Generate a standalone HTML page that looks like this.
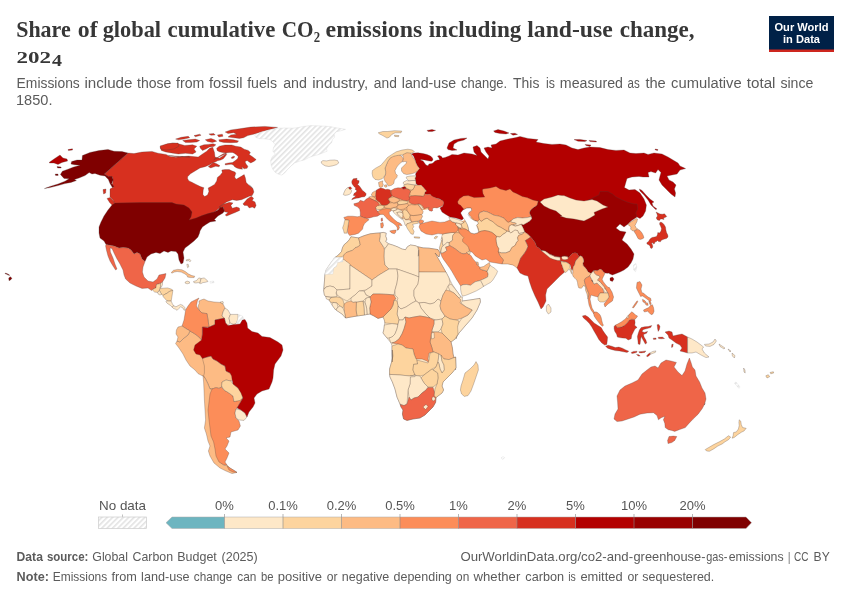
<!DOCTYPE html>
<html><head><meta charset="utf-8">
<style>
html,body{margin:0;padding:0;background:#fff;}
body{width:850px;height:600px;overflow:hidden;position:relative;font-family:"Liberation Sans",sans-serif;}
svg{position:absolute;left:0;top:0;will-change:transform;}
text{font-family:"Liberation Sans",sans-serif;}
.t{font-family:"Liberation Serif",serif;font-weight:bold;fill:#373737;}
.s{fill:#5b5b5b;}
.f{fill:#5b5b5b;}
.l{fill:#555;}
</style></head><body>
<svg width="850" height="600" viewBox="0 0 850 600">
<defs>
<pattern id="h" patternUnits="userSpaceOnUse" width="3.8" height="3.8" patternTransform="rotate(-45)"><rect width="3.8" height="3.8" fill="#fff"/><rect width="3.8" height="1.6" fill="#e3e3e3"/></pattern>
</defs>
<!-- HEADER -->
<text class="t" x="16.2" y="36.8" font-size="23.5" textLength="54.5" lengthAdjust="spacingAndGlyphs">Share</text><text class="t" x="77.8" y="36.8" font-size="23.5" textLength="19.8" lengthAdjust="spacingAndGlyphs">of</text><text class="t" x="102.7" y="36.8" font-size="23.5" textLength="58.4" lengthAdjust="spacingAndGlyphs">global</text><text class="t" x="167.6" y="36.8" font-size="23.5" textLength="107.7" lengthAdjust="spacingAndGlyphs">cumulative</text><text class="t" x="281.8" y="36.8" font-size="23.5" textLength="38.2" lengthAdjust="spacingAndGlyphs">CO₂</text><text class="t" x="325.6" y="36.8" font-size="23.5" textLength="96.6" lengthAdjust="spacingAndGlyphs">emissions</text><text class="t" x="428.7" y="36.8" font-size="23.5" textLength="92.7" lengthAdjust="spacingAndGlyphs">including</text><text class="t" x="527.3" y="36.8" font-size="23.5" textLength="85.4" lengthAdjust="spacingAndGlyphs">land-use</text><text class="t" x="619.7" y="36.8" font-size="23.5" textLength="74.9" lengthAdjust="spacingAndGlyphs">change,</text>
<text class="t" x="16.5" y="63" font-size="17.5" textLength="34.5" lengthAdjust="spacingAndGlyphs">202</text><text class="t" x="52" y="65.7" font-size="17.5" textLength="10" lengthAdjust="spacingAndGlyphs">4</text>
<text class="s" x="16.6" y="87.6" font-size="14" textLength="63.2" lengthAdjust="spacingAndGlyphs">Emissions</text><text class="s" x="84.4" y="87.6" font-size="14" textLength="48.1" lengthAdjust="spacingAndGlyphs">include</text><text class="s" x="137.1" y="87.6" font-size="14" textLength="34.3" lengthAdjust="spacingAndGlyphs">those</text><text class="s" x="176.0" y="87.6" font-size="14" textLength="28.3" lengthAdjust="spacingAndGlyphs">from</text><text class="s" x="208.9" y="87.6" font-size="14" textLength="33.6" lengthAdjust="spacingAndGlyphs">fossil</text><text class="s" x="247.2" y="87.6" font-size="14" textLength="29.8" lengthAdjust="spacingAndGlyphs">fuels</text><text class="s" x="283.2" y="87.6" font-size="14" textLength="23.7" lengthAdjust="spacingAndGlyphs">and</text><text class="s" x="312.2" y="87.6" font-size="14" textLength="56.0" lengthAdjust="spacingAndGlyphs">industry,</text><text class="s" x="373.8" y="87.6" font-size="14" textLength="23.0" lengthAdjust="spacingAndGlyphs">and</text><text class="s" x="401.8" y="87.6" font-size="14" textLength="54.3" lengthAdjust="spacingAndGlyphs">land-use</text><text class="s" x="461.0" y="87.6" font-size="14" textLength="46.2" lengthAdjust="spacingAndGlyphs">change.</text><text class="s" x="513.1" y="87.6" font-size="14" textLength="26.3" lengthAdjust="spacingAndGlyphs">This</text><text class="s" x="545.9" y="87.6" font-size="14" textLength="8.9" lengthAdjust="spacingAndGlyphs">is</text><text class="s" x="559.8" y="87.6" font-size="14" textLength="63.2" lengthAdjust="spacingAndGlyphs">measured</text><text class="s" x="627.6" y="87.6" font-size="14" textLength="12.2" lengthAdjust="spacingAndGlyphs">as</text><text class="s" x="645.4" y="87.6" font-size="14" textLength="20.4" lengthAdjust="spacingAndGlyphs">the</text><text class="s" x="671.1" y="87.6" font-size="14" textLength="70.5" lengthAdjust="spacingAndGlyphs">cumulative</text><text class="s" x="746.8" y="87.6" font-size="14" textLength="28.7" lengthAdjust="spacingAndGlyphs">total</text><text class="s" x="780.4" y="87.6" font-size="14" textLength="33.0" lengthAdjust="spacingAndGlyphs">since</text>
<text class="s" x="16" y="105.3" font-size="14" textLength="36.5" lengthAdjust="spacingAndGlyphs">1850.</text>
<!-- LOGO -->
<g>
<rect x="769" y="16" width="65" height="36" fill="#002147"/>
<rect x="769" y="49.5" width="65" height="2.5" fill="#ce261e"/>
<text x="801.5" y="30.5" font-size="11.5" font-weight="bold" fill="#fff" text-anchor="middle" textLength="54" lengthAdjust="spacingAndGlyphs">Our World</text>
<text x="801.5" y="43" font-size="11.5" font-weight="bold" fill="#fff" text-anchor="middle" textLength="37" lengthAdjust="spacingAndGlyphs">in Data</text>
</g>
<!-- MAP -->
<g id="map" stroke="#4a3d38" stroke-opacity="0.7" stroke-width="0.4" stroke-linejoin="round">
<path d="M128 153L134 153.6L142 152L152 151.4L158 153.2L166 154.4L170 156.4L176 157.2L182 156.4L190 157.2L168.5 155.4L178.4 157.1L188.3 156.1L198.2 157.1L202.5 154L206.7 151.2L209.6 148.3L212.7 147.2L214.5 152.6L215 157.1L219.5 158.2L223.7 155.4L226.6 153.3L213.8 159.6L216.7 157.9L220 155.8L223.3 153.8L225.8 153.3L226.7 154.6L225 156.7L223.3 158.8L220.8 160L217.5 160.8L215.8 161.8L212.5 162.9L209.2 165L205 166.7L200 167.9L190.5 173.8L187.6 176.7L187.6 178.8L189 180.9L191.9 182.3L196.1 184.4L200.4 186.6L203.9 187.7L203.2 190.1L202.9 194.4L204.6 196.5L207.5 195.1L208.9 191.5L208.2 188L211 186.6L214.5 184.4L216.7 180.9L217.4 177.4L220.2 175.2L222.3 172.4L221.8 170L225 169.6L229.2 169.6L231.7 170.8L235 172.1L235.8 173.3L234.6 177.1L236.2 179.2L240 177.1L244.2 174.6L245.4 177.9L246.2 182.5L249.2 185.4L252.1 187.9L249.3 184.9L252.9 188.4L253.9 192L252.2 195.5L249.3 196.2L246.5 197.6L241.5 199.7L236.6 200.5L232.3 199.7L226.7 201.9L222.4 204.7L218.9 207.1L223.8 204L229.5 202.3L233 202.9L230.9 205.4L232.3 208.2L236.6 207.1L239.4 208L239.7 210.4L235.2 212.5L230.9 214.2L226.7 216L225.2 215L228.1 212.5L224.5 211.8L223.1 207.1L218.9 208.5L213.9 212.5L208.2 214.2L202.6 216.7L195.5 219.3L188.4 222.1L184.2 212.5L175.7 207.5L170 204.7L172 204.4L140 204.4L115 204.4L113 200L110 197L110 189L113.6 187L112 185L113 181L112.4 177L109 177L104.4 174Z" fill="#d7301f"/>
<path d="M216.7 148.3L219.2 146.2L225 145L231.7 145L235.8 146.2L240.8 147.1L244.2 149.2L248.3 150.4L250.4 152.5L249.2 154.6L252.5 156.7L256.2 159.6L254.2 161.2L250.8 162.9L249.2 162.1L247.1 160.4L245 161.7L246.2 164.2L247.9 166.2L247.1 168.3L244.2 168.8L241.7 167.1L242.5 169.2L239.2 168.8L236.7 167.9L234.6 166.7L233.3 165L231.2 164.2L228.3 164.6L225.4 165L225 163.8L228.3 162.9L232.5 162.5L235 160.8L237.5 158.8L238.3 156.7L236.7 155L234.2 153.3L232.5 152.5L229.2 152.5L225.8 152.9L222.5 152.5L219.2 151.7L217.1 150.4Z" fill="#d7301f"/>
<path d="M231.2 157.5L233.3 156.2L235 156.7L233.3 158.2L231.7 158.5Z" fill="#d7301f"/>
<path d="M208.3 166.7L210.8 164.6L213.3 162.5L216.7 163.8L220 165.8L218.8 166.7L215.8 166.2L213.3 167.1L210.8 167.9Z" fill="#d7301f"/>
<path d="M242.9 204L247.2 199L251.4 196.2L253.6 198.3L252.2 200.5L255 201.9L256.1 205.4L254.7 208.2L252.2 207.1L249.3 208L247.2 205.4L244.4 205.4Z" fill="#d7301f"/>
<path d="M107 198.4L110 197.6L113.6 201L115.6 205.6L113 206L109.6 202.4Z" fill="#d7301f"/>
<path d="M103 189.6L106 189L105.6 193L103.6 194Z" fill="#d7301f"/>
<path d="M225.2 132L230.8 129.9L239.3 128.8L250.7 127.1L264.8 126.4L277.6 127.4L267.6 129.9L259.2 132.7L253.5 134.2L247.8 135.6L243.6 137.7L239.3 138.4L233.7 137.7L228 137L230.8 134.9L236.5 134.2L233.7 132.7L228 133.5Z" fill="#d7301f"/>
<path d="M218.8 139.8L226.6 139.1L233.7 139.8L238.6 141L237.2 142.4L230.8 142.7L223.7 142.4L219.5 141.5Z" fill="#d7301f"/>
<path d="M208.9 133.9L213.8 133.5L215.2 134.9L211 135.3Z" fill="#d7301f"/>
<path d="M217.4 134.9L222.3 134.2L223 136.3L218.8 137Z" fill="#d7301f"/>
<path d="M175.6 139.1L181.2 137.3L188.3 136.3L189.7 137.7L184.1 139.1L178.4 139.8Z" fill="#d7301f"/>
<path d="M205.3 139.8L211 138.4L214.5 139.8L216.7 141.2L212.4 142.4L207.5 141.5Z" fill="#d7301f"/>
<path d="M194 135.6L199.7 134.2L201.1 135.3L195.4 136.7Z" fill="#d7301f"/>
<path d="M182.7 140.5L188.3 139.8L195.4 139.1L199.7 140.5L196.8 142L190.5 142.4L185.5 142.4Z" fill="#d7301f"/>
<path d="M160 147.6L165.7 144.8L172.7 142.9L178.4 143.8L184.8 145.5L192.6 144.8L196.8 146.2L194 149L196.1 151.9L192.6 154L185.5 153.3L178.4 154L171.3 152.9L165.7 151.9L161.4 150.5Z" fill="#d7301f"/>
<path d="M199.7 146.2L203.9 144.8L208.2 144.4L213.1 143.8L215.9 144.8L213.8 146.6L209.6 146.9L206 149L202.5 150.5L200.4 148.3Z" fill="#d7301f"/>
<path d="M160 146L168 143.6L178 143L179 146L174 149L166 150L161 149Z" fill="#d7301f"/>
<path d="M115 203L140 202.6L172 202.6L176 204L184 205L189 208L192 212L191 217L189 220L196 218L202 215.6L208 213.6L214 212L218 210L220 207.6L223 207L224.4 211L223 213L218 216L214.4 219.6L216 221L210 222L206 224.4L202.4 227L200 231L199.6 233L198 237L194 241L189 245L185 248L183 252L184 258L183 263L181 264L179 260L178 254L176 251.6L171 251L168 252.4L164 251L160 253.6L156 252.4L151 254L147 257L145 261.6L142 259L140 254L137 252.4L134 254L131 250L128 248L123 247.6L119 248L114 246L106 244.4L104 241L100 238L99 233L99 227L101 222L104 216L108 210L112 205Z" fill="#7f0000"/>
<path d="M82.4 155.6L90 152.4L99 150.6L108 149.4L114 151.2L122 151.6L128 153L104.4 174L108.4 176.6L112 176.4L113.2 180L111.6 183.6L114 186.6L112.4 187.6L110 183.6L108.4 179.6L105 176L100 175.2L95 173.4L92 174L89.2 172.6L85 175.6L79 178L74.4 179.6L76.4 180.6L71 182.4L65 183.6L58 185.6L50 187.6L44.4 188.6L50 186.4L58 184L65 181.2L69 178.8L64 178.4L60.4 174.4L62.4 171.2L68 169.2L73 167.2L80 165.2L74.4 164.8L71 164L71.6 161.6L77 160L82 160Z" fill="#7f0000"/>
<path d="M57 166.6L61 167L61.2 168L57.6 168Z" fill="#7f0000"/>
<path d="M55.2 174L58 174L58.2 175.4L55.6 175.4Z" fill="#7f0000"/>
<path d="M49 162.6L54 159L60 155L63 158L67 159L67.6 161L62 162.4L58 164.4L54 163L50 163Z" fill="#b30000"/>
<path d="M68 149.6L72.4 148.8L72.6 150L68.4 150.6Z" fill="#b30000"/>
<path d="M106 244.4L114 246L119 248L123 247.6L128 248L131 250L134 254L137 252.4L140 254L142 259L145 261.6L143 267L142.4 272L144 277L148 281L153 282L157 279L159 275L166 273.6L165 278L162.4 282L161.2 283.2L159.4 283.8L156.6 284.4L156 288L153 289.2L151.6 290.6L148 288L142 288.4L136 286L130 283L125.6 279L124 275L123 270L120 264L117 259L114 253L112 248.4L110 248L110.4 252L113 258L115 264L117 269L115.6 270L113 266L110 261L108 256L106.4 250L105.6 246Z" fill="#ef6548"/>
<path d="M152.9 289.1L155.9 287.9L156.5 284.4L159.4 283.8L161.2 283.2L160.6 286.2L160 288.5L159.4 290.3L157.6 292.4L154.7 292.1L152.7 290.3Z" fill="#fdd49e"/>
<path d="M160.6 283.2L162.6 282.1L162.4 285L161.2 287.4L160.2 287.9L160.6 286.2Z" fill="#fee8c8"/>
<path d="M160 288.5L163.5 288.2L167.6 287.9L171.2 289.1L172.9 290.3L169.4 291.5L167.1 293.2L164.7 294.4L162.9 295.6L161.8 294.4L160.6 292.6L159.4 290.3Z" fill="#fdd49e"/>
<path d="M157.6 292.4L159.4 290.5L160.6 292.6L161.8 294.4L160 295L158.2 294.1Z" fill="#fee8c8"/>
<path d="M162.9 295.6L164.7 294.4L167.1 293.2L169.4 291.5L172.9 290.3L172.4 293.8L171.8 297.4L171.2 300.9L168.8 301.1L166.5 300.3L164.7 298.5L163.3 296.8Z" fill="#fdd49e"/>
<path d="M166.5 300.9L168.8 301.1L171.2 301.1L172.4 303.8L173.5 305.6L172.4 307.4L170.6 305.6L168.8 304.4L167.1 303.2L165.9 301.8Z" fill="#fee8c8"/>
<path d="M172.4 307.4L173.5 305.6L175.9 306.8L178.2 305.6L180.6 304.4L182.9 305.4L184.7 307.4L185.3 309.7L184.1 310.3L182.9 307.9L180.6 306.8L178.8 308.5L177.1 310.3L175.3 309.1L173.5 308.5Z" fill="#fee8c8"/>
<path d="M171.2 272.6L173.5 270.3L177.6 269.4L181.8 269.7L185.3 271.5L188.2 273.8L191.8 275.6L194.7 276.2L194.1 277.6L190.6 277.6L187.6 277.1L187.1 275.6L184.7 273.8L181.2 272.1L177.1 271.5L174.1 272.1L172 273.2Z" fill="#fdbb84"/>
<path d="M185.1 282.1L187.1 281.1L189.4 281.8L189.6 283.2L187.1 283.8L185.3 283.2Z" fill="#fee8c8"/>
<path d="M193.5 281.5L196.5 280.6L198.8 277.9L201.2 278.5L200.6 280.3L200 283.2L198.2 282.6L195.9 283L193.9 282.6Z" fill="#fee8c8"/>
<path d="M201.2 278.5L204.1 277.9L206.5 279.7L208 281.5L205.3 282.3L202.9 282.6L200.6 283.8L200 283.2L200.6 280.3Z" fill="#fee8c8"/>
<path d="M210 281.5L213.5 281.1L214.1 282.6L210.4 283.2Z" fill="url(#h)" stroke="#d4d4d4" stroke-width="0.5"/>
<path d="M186.1 259.9L189.4 259.1L190.8 260.6L190 261.8L188.8 260.6L186.5 260.9Z" fill="#fee8c8"/>
<path d="M186.8 264.4L188.2 264.2L188.8 266.8L187.6 267.7Z" fill="#fee8c8"/>
<path d="M220 302.1L222.9 301.5L223.5 303.2L221.2 304.2Z" fill="#fee8c8"/>
<path d="M254.7 135.3L257.1 133.5L261.8 131.8L267.6 130.4L273.5 129.2L277.6 128.2L285.3 128L292.4 128.2L298.2 127.6L302.9 126.5L311.2 125.6L320.6 125.9L330 126.5L334.7 127.6L340.6 128.5L345.5 129.4L340.6 130.8L336.5 131.8L334.1 134.1L334.7 137.1L332.4 139.4L331.8 142.4L328.8 145.3L326.5 148.8L327.1 151.2L322.9 152.9L318.2 154.7L313.5 155.9L308.8 157.6L304.1 160L299.4 161.2L294.7 162.9L291.2 165.9L287.6 169.4L284.7 172.9L281.8 175.1L278.2 174.1L275.3 172.4L272.9 169.4L271.2 165.3L270.6 160.6L272.4 156.5L275.3 154.1L272.9 151.2L273.5 147.6L275.3 144.7L272.9 141.8L270 139.4L264.1 138.8L259.4 138.6L255.9 137.4Z" fill="url(#h)" stroke="#d4d4d4" stroke-width="0.5"/>
<path d="M321.2 161.8L322.9 160.6L326.5 160.9L330 160.2L334.7 160L337.6 160.6L338.8 162.9L336.5 164.7L332.4 165.9L328.8 166.5L325.3 165.9L322.9 164.5L321.5 163.3Z" fill="#fee8c8"/>
<path d="M177 341L180 342L184 338L188 335L190 331L195 334L199 337L201.6 340L204 342L202.4 358.4L205 359L207 366L206 373L205 378L203.6 376.4L198 373.6L195 370L190 366L186 360L183 354L179 348L175.6 343.6Z" fill="#fdbb84"/>
<path d="M202.4 358.4L207 357L211 356L213 359L217 361L221 364L225 366L226 371L230 373L233 376L233 380L231 381L226 380L222 382L221.6 387L219 388.4L216 387.6L212 389L210 389L208 384L205 378L203.6 376L204.4 373L204.4 366Z" fill="#fdbb84"/>
<path d="M203 375.6L205 378L208 384L210 389L213 389L212 402L211 410L212 420L213 428L214 436L216 442L217 449L218 456L220 462L224.4 465.4L227 465L230 468L234 470.4L237 472.4L232 473.6L226 471L220 468L214 463L210 456L208.4 451L210 446L208 441L206.4 434L204.4 428L205.6 420L205 410L204.4 400L204 390L203.6 382Z" fill="#fdbb84"/>
<path d="M212 389L216 387.6L219 388.4L221.6 387L224 390L229 393L233 396L234 401.6L240 400L243 398L240 403L237 408L236 409L235 413L236 418L239 421L240.4 426L238 430L231 432L230 437L226 438L229 441L227 446L225 449L229 453L227 458L225 462L227 465L224 465L219 462L216 456L215 449L213.6 442L211 436L210 428L209 420L208 410L209 402L210 394Z" fill="#fc8d59"/>
<path d="M227 466L230 468L234 470.4L237 472.4L233 472L229 470Z" fill="#fc8d59"/>
<path d="M222 382L226 380L231 381L233 384L238 388L242 393L242.6 398L240 400.4L234 401.6L233 396L229 393L224 390L221.6 386Z" fill="#fdd49e"/>
<path d="M236 409L241 410L245 413L247 417L244 420.4L239 420L236 418L235 413Z" fill="#fee8c8"/>
<path d="M199 301L201 300L204 299L208 301L214 302L220 302.4L223 304L225 308L223 312L222 316L224.4 318L220 319L215 320L215 324.4L208 327.6L209 327L208 320L207 313.6L202 313L199 310L198 306L199.2 303.6Z" fill="#fdbb84"/>
<path d="M225 308L228 310L230.4 314.4L229 318L230 323L228 325.6L225.6 323L224.4 318L222 316L223 312Z" fill="#fee8c8"/>
<path d="M230.4 314.4L238 314.4L238 319L236.4 323L234 324.4L230 323L229 318Z" fill="#fee8c8"/>
<path d="M238 314.4L242.4 316L244 319L242.4 320L240 324L236.4 323L238 319Z" fill="url(#h)" stroke="#d4d4d4" stroke-width="0.5"/>
<path d="M199 298L197.4 301L196.4 306L199 310L202 313L207 313.6L208 320L209 327L202.4 327L202.4 334L201.6 340L199 337L195 334L190 331L185 328L182 326L184 320L185 314L185.6 310L188 306L191 302L195 300Z" fill="#fc8d59"/>
<path d="M178 327L182 326L185 328L190 331L188 335L184 338L180 342L177 341L178 337L176 334L176.4 330Z" fill="#fdbb84"/>
<path d="M202.4 327L208 327.6L215 324.4L215 320L220 319L224.4 318L225.6 323L228 325.6L234 324.4L240 324L242.4 320L245 319.6L247 323L247.6 328L252 331.6L258 333L262 336.4L270 337.6L278 342L282 345L283 350L281 356L278 360L275 364L273.6 370L273 378L272 382L269 389L262 391L257 394L254 398L255 403L253 407L249 412L247 417L245 413L241 410L237 408L240 403L243 398L241 393L238 388L233 384L232 379L231.6 376L230 373L226 371L225 366L221 364L217 361L213 359L211 356L207 357L202.4 358.4L200 355L196 354L193.6 350L195 345L199 342L201.6 340L202.4 334Z" fill="#b30000"/>
<path d="M350.9 236.8L355 237.4L358.5 237.9L364.4 235.6L370.3 233.8L376.2 233.2L380.3 232.9L383.2 232.4L386.2 233.2L385.6 236.2L386.8 239.1L385.6 241.5L388.5 243.8L392.6 245L397.4 246.8L402.1 249.1L405.6 249.7L407.4 246.8L410.3 245L415 245.6L417.9 246.8L423.2 247.9L429.1 248.2L438 249.6L440 253L439 257L437 255L435 253L439 260L443 267L446 272.4L449 278L452 284L456 290L461 297L462.4 297L462.4 301L470 300L480 298.4L480.4 302L477 310L472 318L465 326L459 333L456 338L457 338L455 339L451 342L452.4 348L453 354L454.4 359L455.6 370L455.6 357L456 368L452 373L447 378L443 382L442 386L443.6 390L442 393L438 396L436 398L435.6 402.4L433 407L429 411L425 415L420 418L413 419L407 420.4L403.6 419L402.4 414L403 410L401 407L400 404L397 397L395 389L392.4 382L390 377L389.6 374.4L389.6 369L391.6 362L393 356L392.4 350L392.4 362L392 354L392 346L391 343L387 338L383 333L384 329L384.4 325L385 321L383 317L378 318.4L374 316L370 314L364 315L357 316L351 317L345.6 318L342 314L336 310L332 305L329 300L324.4 295L323.6 290L324.4 282L325 274L326 270L330 264L335 257.6L338.5 255L341.5 251.5L342.6 247.4L344.4 244.4L347.9 241.5L349.7 239.1Z" fill="#fee8c8"/>
<path d="M350.9 236.8L355 237.4L358.5 237.9L359.7 242.1L360.3 245L357.9 246.8L355 247.9L352.6 250.3L349.1 251.5L346.2 252.6L343.8 255L342.1 256.8L335 257.4L338.5 255L341.5 251.5L342.6 247.4L344.4 244.4L347.9 241.5L349.7 239.1Z" fill="#fdd49e"/>
<path d="M358.5 237.9L364.4 235.6L370.3 233.8L376.2 233.2L380.3 232.9L380.3 236.8L379.5 240.9L381.5 243.8L383.8 247.4L384.4 250.3L384.2 256.2L384.4 260.9L385 265L389 269L379 275L372 280L350 265L343 259L343.8 255L346.2 252.6L349.1 251.5L352.6 250.3L355 247.9L357.9 246.8L360.3 245L359.7 242.1Z" fill="#fdbb84"/>
<path d="M380.3 232.9L383.2 232.4L386.2 233.2L385.6 236.2L386.8 239.1L385.6 241.5L388.5 243.8L386.8 246.2L385 248.5L383.8 247.4L381.5 243.8L379.5 240.9L380.3 236.8Z" fill="#fee8c8"/>
<path d="M388.5 243.8L392.6 245L397.4 246.8L402.1 249.1L405.6 249.7L407.4 246.8L410.3 245L415 245.6L417.9 246.8L418.5 250.3L418.3 256.2L419 250L419 277L414 275L397 269L389 269L385 265L384.4 260.9L384.2 256.2L384.4 250.3L385 248.5L386.8 246.2Z" fill="#fee8c8"/>
<path d="M417.9 246.8L423.2 247.9L429.1 248.2L438 249.6L440 253L439 257L437 255L435 253L439 260L443 267L446 272.4L419 272L419 250Z" fill="#fdbb84"/>
<path d="M335 257.6L343 257.6L343 262L335 262.4L334 270L333.6 274L325 274L326 270L330 264Z" fill="url(#h)" stroke="#d4d4d4" stroke-width="0.5"/>
<path d="M325 274L333.6 274L334 270L335 262.4L343 262L343 259L350 264L350 289L337 290L334 287L330 286L326 287L324 289L324.4 282Z" fill="#fee8c8"/>
<path d="M350 265L372 280L372 286L366 290L359 291L355 295L351 298L347 301L343 299L340 297L337 295L336 291L337 290L350 289Z" fill="#fee8c8"/>
<path d="M372 280L379 275L389 269L397 269L398 276L397 283L395 290L394 295L388 294.4L380 294L373 294L370 297L366 295L364 291L366 290L372 286Z" fill="#fee8c8"/>
<path d="M397 269L414 275L419 277L418 284L414 290L414 296L416 301L412 303L406 307L401 309L398 306L397 301L398 298L395 295L395 290L397 283L398 276Z" fill="#fee8c8"/>
<path d="M419 272L446 272L449 278L450 283L448 286L446 290L443 295L441 301L438 299L434 303L430 304L424 302.4L419 303L416 301L414 296L414 290L418 284L419 277Z" fill="#fee8c8"/>
<path d="M448 286L451 284L456 290L461 297L459 298L454 293L450 291Z" fill="#fee8c8"/>
<path d="M419 303L424 302.4L430 304L434 303L438 299L441 301L440 306L441 310L445 316L442 319L436 320L430 318L425 313L421 308Z" fill="#fee8c8"/>
<path d="M398 306L401 309L406 307L412 303L416 301L419 303L421 308L425 313L430 318L426 317L420 316L414 317L409 318L405 317L403 320L399 320L397 314L397.6 310Z" fill="#fee8c8"/>
<path d="M462.4 301L470 300L480 298.4L480.4 302L477 310L472 318L465 326L459 333L456 338L456 329L458 324L462 318L468 315L472.4 310L466 307L461 303Z" fill="#fee8c8"/>
<path d="M443 295L446 290L450 291L454 293L459 298L461 300L460 303L466 307L472 310L468 315L462 318L456 320L450 319L445 316L441 310L440 306L441 301Z" fill="#fdbb84"/>
<path d="M394 300L397 301L398 306L397.6 310L397 314L399 320L398 324.4L392 323.6L385 323L384 319L383 317L387 313L391 309L393 305Z" fill="#fdd49e"/>
<path d="M370 297L373 294L380 294L388 294.4L394 295L396 299L394 300L393 305L391 309L387 313L383 317L378 318.4L374 316L370 314L369.6 308L371 302Z" fill="#fc8d59"/>
<path d="M366 298L370 297L371 302L369.6 308L370 314L367 314.4L366.6 308L365 302.4Z" fill="#fee8c8"/>
<path d="M363.6 301L365 302.4L366.6 308L367 314.4L364.4 315L364 308Z" fill="#fee8c8"/>
<path d="M356.4 302L363 301L364 308L364.4 315L357 316L356 310Z" fill="#fdd49e"/>
<path d="M351 298L355 295L359 291L364 291L366 295L370 297L366 298L363 301L356.4 302L353 302.4L351 301Z" fill="#fee8c8"/>
<path d="M344 304L347 302L351 301L353 302.4L356.4 302L356 310L357 316L351 317L345.6 318L344.4 312Z" fill="#fdbb84"/>
<path d="M329 300L331 297.6L337 297L340 297.6L343 300L344 304L343 308L340 306L337 303L333 302.4L331 302.4Z" fill="#fdd49e"/>
<path d="M323.6 290L326 287L330 286L334 287L337 290L336 293L337 296.4L331 297L325.6 296.4L324.4 295Z" fill="#fee8c8"/>
<path d="M325.6 296.4L331 297.6L329 300L326.4 299Z" fill="#fee8c8"/>
<path d="M332 305L333 302.4L337 303L338 307L335.6 310Z" fill="#fee8c8"/>
<path d="M336 310L338 307L340 306L343 308L344.4 312L345.6 318L342 314Z" fill="#fee8c8"/>
<path d="M384.4 325L392 323.6L398 324.4L397 329L395 334L392 337L389 338L387 338L383 333L384 329Z" fill="#fee8c8"/>
<path d="M398 324.4L399 320L403 320L405 317L406 322L404 329L402 334L399 339L395 342L391 343L389 338L392 337L395 334L397 329Z" fill="#fee8c8"/>
<path d="M434 320L436 320L442 319L443 324L441 329L438 332L432 332L432 330L434 324Z" fill="#fee8c8"/>
<path d="M442 319L445 316L450 319L456 320L459 321L457.6 327L458 334L455 339L451 342L442 333L441 329L443 324Z" fill="#fdd49e"/>
<path d="M432 332L438 332L442 333L451 342L452.4 348L453 354L454.4 359L455.6 357L449 359.6L444 359L439 354L434 352L433 352L432 348L430 342L431 336Z" fill="#fdbb84"/>
<path d="M431 333L434 332.4L434.4 338L431.6 339Z" fill="#fee8c8"/>
<path d="M405 317L409 318L414 317L420 316L426 317L430 318L434 320L434 324L432 330L431 336L430 342L432 348L433 352L429 353L428 359L430 364L427 361L422 359L416 359L414 354L413 349L406 348L402 345L398 344L392 343L395 342L399 339L402 334L404 329L406 322Z" fill="#fc8d59"/>
<path d="M392 346L398 344L402 345L406 348L413 349L414 354L416 359L417 360L417.6 364L413.6 364.4L413 370L415 375L410 376L400 375L389.6 374.4L389.6 369L391.6 362L393 356L392.4 350L392.4 362L392 354Z" fill="#fdd49e"/>
<path d="M417.6 364L417 360L428 363L429 360L430 353L434 352L439 354L438 362L436 367L432 369L428 372L424 375L420 376L416 375.6L415 375L413 370L413.6 364.4Z" fill="#fdd49e"/>
<path d="M439 354L441 355L442 361L444 365L444.4 370L442 373L440 369L439 364L438 362Z" fill="#fee8c8"/>
<path d="M441 355L444 359L449 359.6L455.6 357L456 368L452 373L447 378L443 382L442 386L443.6 390L442 393L438 396L435.6 398L434 395L435 389L437 384L438 378L437.6 373L433 370L436 367L438 362L439 364L440 369L442 373L444.4 370L444 365L442 361Z" fill="#fdd49e"/>
<path d="M424 375L428 372L432 369L433 370L437.6 373L438 378L437 384L433 387L428 387L424 383L421 378Z" fill="#fdd49e"/>
<path d="M410 376L415 375L416 375.6L420 376L421 378L424 383L428 387L426 390L422 393L418 397L414 398L411 400L409 397L408 390L410 384Z" fill="#fee8c8"/>
<path d="M389.6 374.4L400 375L410 376L416 375.6L415 376.6L410.4 377L410 384L408 390L407.6 397L407 404L404 405.6L400 404L397 397L395 389L392.4 382L390 377Z" fill="#fee8c8"/>
<path d="M400 404.4L404 405.6L407 404L409 397L411 400L414 398L418 397L422 393L426 390L428 387.6L433 387.4L434.4 392L434 395.6L436 398L435.6 402.4L433 407L429 411L425 415L420 418L413 419L407 420.4L403.6 419L402.4 414L403 410L401 407Z" fill="#ef6548"/>
<path d="M423 407L426 404.4L428 406.4L425.6 409.6Z" fill="#fee8c8"/>
<path d="M432 397.6L434 396.6L435.6 399L433.6 401L432 400Z" fill="#fee8c8"/>
<path d="M461 386L463 380L465 373L470 369L474 365L476 361.6L478 365L478.4 370L476 377L473.6 384L471 391L468 395.6L464.4 396.4L461.6 394L460.4 390Z" fill="#fdd49e"/>
<path d="M411.5 154L414 153L418 152.8L423 153.5L427 154.5L430.5 156L432.5 158L433 160L431.5 161.2L428 160.8L424.5 160L421 159.5L420.5 160L423 161L424.5 163L426 165L428 165.8L429 164L432 163.5L433.5 162.5L435 161L437.5 160L439.5 160L439 158L437.5 156L439.5 155.5L441.5 156.5L442.5 158L445 157.5L449 156L452 154.4L458 155L464 153L472 154L477 155.6L474 152L473 147L477 145.6L480 148L481 152L484 155L488 159L489 156L486 152L484 148L488 147L492 148L491 145L496 144L500 141L508 139L516 137.6L520 136.4L528 138.4L538 139.6L536 142L544 143.6L552 144.4L560 144L566 145L572 148L578 149.6L584 148L590 147L600 147.6L608 149.6L616 150.4L624 150L630 153L636 153.6L644 153L648 154.4L654 153L662 154L668 157L673 160L678 163L680 166L685.6 168.6L680 170L677 174L672 175L667 176L669 180L673 182L676 185L674.4 189L675.6 193L675 197L671 194L666 189L662 185L659 180L660 176L661 172.4L658 169.6L655.6 173L651 171.6L648 172.4L649 177L643 177L639 176.4L632 177L627 178.4L624.4 187.6L629 190L635 189.6L640 193L644 199L646.4 205L645.6 211L643 216L640 218.4L637 217L634 214L620 210L600 204L580 206L560 204L540 206L520 204L500 196L484 200L466 200L466 212L464 218L462 220L456 218L450 217L445 214L442 212L440 208L443 206L443.6 202L440 199L432 197L430 194L427 194.5L424.5 194L425 192L426.5 191L425 189.5L423.5 187.5L421 185L418 185.2L416.2 184L415.5 181L415 178L416 176.2L415.5 174L417 171.5L419.5 168.5L417.5 166L416 163L415 159.5L413.5 156Z" fill="#b30000"/>
<path d="M447 148L449 143L454 140L461 138.4L467 138L464 140L458 141.6L454 144L453 148L457 150L452 150.4L448 149.6Z" fill="#b30000"/>
<path d="M493.6 131L498 129.6L504 131L509 133L506 134L500 133.6L495 132.4Z" fill="#b30000"/>
<path d="M510.4 133.6L515 133.2L517.6 134.4L513 135.2Z" fill="#b30000"/>
<path d="M427 130.4L432 129.6L435.6 130.4L432 131.6L428 131.4Z" fill="#b30000"/>
<path d="M574 139.6L580 139.4L587 140.6L585 141.6L578 141.2Z" fill="#b30000"/>
<path d="M589 140.4L596 141L596.6 142L590 141.6Z" fill="#b30000"/>
<path d="M585 144.4L591 145L590 146.4L586 145.6Z" fill="#b30000"/>
<path d="M655 149L658 149.6L657.6 150.6L655.4 150Z" fill="#b30000"/>
<path d="M639.4 189L642 190.4L646 195L650 199L654 202L652 203L653 206L657 209L655.6 209.6L651 205L648 200L644 195L640 191Z" fill="#b30000"/>
<path d="M450 223L460 222L479 214L512 220L528 218L524 232L524 235L520 248L516 266L504 263L500 253L486 258L472 250L467 248L450 243L442 240L442 235Z" fill="#fdbb84" stroke="none"/>
<path d="M538 200L540 202L552 204L580 204L599 195L600 191.6L608 191.6L612.4 194L616 197L622 200L628 202.4L634 204L637 204L637.6 209L635.6 213L637 217L634 219L631 221L628 224L624 227L620 224L616 228L620 231L626 232L624 236L622 240L627 244L631 249L634 254L633 259L631 263L628 267L624 270L620 272L615 274L612.4 275L609 273.6L610 272.9L607.5 273.3L605 272.9L603.3 271.7L602.1 270L600 269L597.5 270.8L595.4 270.4L593.3 270.8L591.7 272.9L590 272.9L587.9 271.7L586.7 269.6L585 267.5L583.3 265.8L582.9 263.3L583.8 261.2L583.3 258.8L582.1 256.5L580.4 255.7L579.2 256.5L577.9 254.8L577.1 253.2L575 252.7L572.5 253.2L570.4 255.4L568.8 257.5L567.1 256.4L564.6 256L562.5 256.2L561.7 257.1L560 257.1L557.5 256.7L555 256.2L552.5 255L550 254.2L545 251L541 250.4L540 248.8L536.5 246.5L535.3 242.9L532.9 239.4L530.6 237.1L527.6 234.1L524.7 232.1L522.9 227.6L521.2 224.4L523.5 224.7L526.5 222.9L529.4 221.2L531.8 218.8L531.2 216.5L529.4 212.9L530.6 210L533.5 207.6L537.1 205.3L538.2 201.2Z" fill="#990000"/>
<path d="M610 278L612.4 277L614 279L612.4 281.6L610 280.4Z" fill="#990000"/>
<path d="M540 202L544 199L552 197L558 195L562 195.6L564 195.6L570 198L576 200L584 201L592 199.6L597 201L603 205L608 207L602 209L594 212.4L595 215L590 218L584 221L574 219L566 218L560 216L562 216L556 211L550 209L544 206Z" fill="#fee8c8"/>
<path d="M457.6 201.8L459.4 198.8L463.5 195.9L468.2 195.6L474.1 197.6L480 197.3L484.7 197.1L482.9 193.5L482.4 190L483 189L490 188L496 186.4L500 189L506 190.4L510 189L513 192L516.5 193.5L522.4 196.5L527.1 197.6L532.9 200L538.2 201.2L537.1 205.3L533.5 207.6L530.6 210L529.4 212.9L531.2 216.5L527.6 217.6L522.4 218L517.6 217.6L513.5 218.8L510.6 221.2L508.2 222.4L505.9 220.6L504.1 218.2L498.8 216.1L494.1 215.3L490.6 213.5L487.1 211.8L483.5 211.2L480 212.4L478.6 215.3L479.4 219.4L477.6 221.2L474.7 220.4L471.8 217.6L469.4 215.3L468.2 212.9L471.5 210.6L471.2 208.2L467.6 207.9L464.1 209.4L462.4 207.6L460.6 205.3L458.2 204.1Z" fill="#fc8d59"/>
<path d="M479.4 212.9L483.5 211.2L487.1 211.8L490.6 213.5L494.1 215.3L498.8 216.1L504.1 218.2L505.9 220.6L508.2 222.4L510.6 221.2L512.4 222.4L515.3 222.7L517.1 224.1L514.7 225.1L511.8 224.7L509.4 225.9L508.8 228.8L509.4 231.8L507.1 231.2L504.1 229.4L501.2 227.6L497.6 225.9L495.3 224.1L492.9 221.8L489.4 220L487.1 218.2L484.1 219.4L481.2 221.5L479.4 219.4L478.6 215.3Z" fill="#fdbb84"/>
<path d="M475.3 220.8L477.6 221.5L479.4 219.4L481.2 221.5L484.1 219.4L487.1 218.2L489.4 220L492.9 221.8L495.3 224.1L497.6 225.9L501.2 227.6L504.1 229.4L507.1 231.2L505.3 232.9L502.4 234.7L500 237.1L496.5 236.1L494.1 234.1L491.8 232.4L488.2 231.2L484.7 230.6L481.2 231.2L478.8 231.8L478.2 228.2L476.7 225.3L478.2 223.5Z" fill="#fdd49e"/>
<path d="M510.6 221.2L513.5 218.8L517.6 217.6L522.4 218L527.6 217.6L531.2 216.5L531.8 218.8L529.4 221.2L526.5 222.9L523.5 224.7L521.2 224.1L518.2 225.3L515.3 225.9L512.9 224.7L516.5 224.1L515.3 222.7L512.4 222.4Z" fill="#fee8c8"/>
<path d="M509.4 225.9L511.8 224.7L512.9 225.3L515.3 226.2L518.2 225.5L521.2 224.4L522.9 227.6L524.7 231.8L522.4 232.9L518.8 233.5L517.6 230.6L514.7 230L512.9 231.8L510.6 232.9L509.4 231.8L508.8 228.8Z" fill="#fee8c8"/>
<path d="M496.5 236.5L500 237.1L502.4 234.7L505.3 232.9L507.1 231.2L509.4 231.8L510.6 232.9L512.9 231.8L514.7 230L517.6 230.6L518.8 233.5L522.4 232.9L524.7 232.1L522.4 234.1L518.8 235.3L517.6 237.6L518.2 240.6L516.5 242.4L515.3 245.3L511.8 247.6L510 251.2L505.9 252.9L501.2 252.9L498.2 251.8L498.8 248.8L497.1 245.9L496.2 241.8L495.9 238.8Z" fill="#fee8c8"/>
<path d="M524.7 232.1L527.6 234.1L530.6 237.1L528.2 238.8L525.3 240.6L527.1 244.1L528 246.5L526.5 250L524.7 252.9L522.4 255.9L520.6 258.2L520 260L520 265L517 268L513 265L508 264L502 264L503 260L500 255.9L498.2 251.8L501.2 252.9L505.9 252.9L510 251.2L511.8 247.6L515.3 245.3L516.5 242.4L518.2 240.6L517.6 237.6L518.8 235.3L522.4 234.1Z" fill="#fdbb84"/>
<path d="M530.6 237.1L532.9 239.4L535.3 242.9L536.5 246.5L540 248.8L541 250.4L550 254.2L552.5 255L555 256.2L557.5 256.7L560 257.1L561.7 257.1L562.5 256.2L564.6 256L567.1 256.4L568.8 257.5L570.4 255.4L572.5 253.2L575 252.7L577.1 253.2L577.9 254.8L579.2 256.5L578.3 257.9L577.1 259.2L575.8 260.8L575 262.9L574.6 265L573.3 266.7L572.9 268.8L572.1 270.4L571.2 268.8L570.8 266.7L570.4 265L569.6 264.2L568.3 263.3L567.1 262.5L565.4 261.8L563.8 261.8L561.7 261.2L560.8 260.8L561.2 263.3L562.1 265.4L562.9 267.9L563.8 270.4L564.6 272.1L560 276L556 280L551 285L547 289L545.6 295L546 301L543 307L541 309L538 302L535 296L532 289L529.6 282L528 276L524 275L520 273L517 268L520 260L520.6 258.2L522.4 255.9L524.7 252.9L526.5 250L528 246.5L527.1 244.1L525.3 240.6L528.2 238.8Z" fill="#d7301f"/>
<path d="M541 250.4L545 251L550 254.6L552.5 255.4L555 256.7L557.5 257.1L560 257.3L560.4 260.4L557.9 260.4L555 259.8L552.5 259L550 257.9L544 253Z" fill="#fee8c8"/>
<path d="M561.5 257.5L562.5 256.5L564.6 256.2L567.1 256.7L568.3 257.9L567.5 259.3L565 259.8L562.5 259.6Z" fill="#fee8c8"/>
<path d="M560.8 261.2L562.5 261.8L563.8 262.1L565.4 262.1L567.1 262.7L568.8 263.8L570 264.6L569.8 266.7L570 268.3L570.8 268.8L571.5 271.2L572.1 273.3L571.5 273.8L570.7 271.7L569.6 269.6L568.8 268.8L567.9 270.4L567.1 271.2L565.8 272.5L564.6 272.1L563.8 270.4L562.9 267.9L562.1 265.4L561.2 263.3Z" fill="#fdd49e"/>
<path d="M546.4 306L548.4 304L551 308L551 312L548.4 314L546.4 311Z" fill="#fee8c8"/>
<path d="M458.2 227.6L461.2 228.8L465.3 228.8L468.2 230.6L470.8 232.9L474.1 233.8L477.6 232.9L481.2 231.2L484.7 230.6L488.2 231.2L491.8 232.4L494.1 234.1L496.5 236.5L495.9 238.8L496.2 241.8L497.1 245.9L498.8 248.8L498.2 251.8L500 255.9L503.5 260L502 264L496 263L490 262L486 259L482 260L475.3 255.9L472.4 252.4L470 251.2L468 248.2L465.3 244.7L461.4 241.8L461.2 238.8L459.8 234.7L458.6 231.2Z" fill="#fc8d59"/>
<path d="M449.1 242.6L450.6 241.5L452.6 240L452.4 238.2L452.6 235.6L453.8 233.5L455.9 232.6L458.2 232.6L459.7 233.2L460.9 234.7L462.4 236.2L463.8 237.6L462.6 239.4L462.6 241.5L463.8 242.6L465.6 244.1L467.4 245.6L468.5 247.4L469.1 249.7L469.7 250.9L468.2 251.5L467.1 252.6L465.9 253.5L463.8 253.8L461.8 253.5L459.7 252.4L457.9 250.9L455.9 249.4L453.8 247.9L451.8 246.8L449.7 245.6L448.8 244.1Z" fill="#fdbb84"/>
<path d="M441.5 237.4L442.4 234.4L444.7 233.6L447.6 233.2L450.9 232.6L453.8 232.4L454.4 233.2L452.6 235.6L452.4 238.2L452.6 240L450.6 241.5L449.1 242.6L447.1 242.4L445.3 244.1L443.2 245.6L442.4 243.8L442.1 241.8L442.6 240L441.8 238.8Z" fill="#fee8c8"/>
<path d="M443.2 245.6L445.3 244.1L447.1 242.4L449.1 242.6L448.8 244.1L449.7 245.6L447.6 246.5L445.6 247.1L446.2 248.8L446.8 250.3L445.6 251.5L443.8 252.6L442.1 253.2L440.6 252.6L440.9 250L441.5 247.6L442.4 246.5Z" fill="#fee8c8"/>
<path d="M439.4 247.6L440.3 244.7L440.9 242.4L441.5 240.6L442.4 240.9L442.1 242.6L442.4 244.1L442.9 245.6L442.1 246.8L441.5 247.9L440.9 250.3L440.6 252.6L439.8 250.3Z" fill="#fdd49e"/>
<path d="M440.9 240.3L441.6 237.9L442.4 237.6L442.5 239.7L441.9 240.9Z" fill="#fee8c8"/>
<path d="M440.6 252.9L442.1 253.2L443.8 252.6L445.6 251.5L446.8 250.3L446.2 248.8L445.6 247.1L447.6 246.5L449.7 245.6L451.8 246.8L453.8 247.9L455.9 249.4L457.9 250.9L459.7 252.4L461.8 253.5L463.8 253.8L465.9 253.5L467.1 252.6L468.2 254.1L469.7 254.4L470.9 255.6L473.5 259.4L476.2 262.4L477.1 264.9L478.8 266.1L480 267.6L480.2 269.2L482.9 270L487.1 271.2L488.2 274.1L487.6 277.1L484.1 278.8L480 280.6L475.3 281.8L472.4 283.8L470.6 285.3L466.5 284.5L462.9 284.7L460.6 285.9L458.8 282.9L456.5 279.4L454.1 275.3L451.8 271.2L449.4 267.6L446.5 263.5L443.5 259.4L441.8 256.5Z" fill="#fc8d59"/>
<path d="M467.1 252.6L468.2 251.5L469.7 251.1L470.3 252.6L469.7 254.4L468.2 254.1Z" fill="#fdd49e"/>
<path d="M476.5 261.8L478.2 262.4L478.6 265.3L477.1 264.9Z" fill="#fdbb84"/>
<path d="M480 267.3L483.5 266.5L487.1 264.1L489.4 262.4L490 265.3L488.2 269.4L487.1 271.2L482.9 270L480.2 269.2Z" fill="#fdbb84"/>
<path d="M480 280.6L484.1 278.8L487.6 277.1L488.2 274.1L487.1 271.2L488.2 269.4L490 265.3L491.8 266.5L494.7 268.2L497.6 271.2L496.5 274.1L494.7 277.1L492.9 280L490.6 282.4L487.6 284.1L484.1 286.1L483.5 286.5L482.4 284.1L481.2 281.8Z" fill="#fee8c8"/>
<path d="M460.6 286.1L462.9 284.7L466.5 284.5L470.6 285.3L472.4 283.8L475.3 281.8L480 280.6L481.2 281.8L482.4 284.1L483.5 286.5L480 288.8L476.5 290.8L472.9 292.4L469.4 293.9L465.9 295.3L462.4 296.2L461.2 292.9L460.6 289.4Z" fill="#fee8c8"/>
<path d="M420 224L426 222.4L432 221L440 222.4L444.7 222L450 220L452.4 221.8L455.9 222.9L455.9 224.7L457.6 226.5L458.2 228.2L457.6 230.6L455.3 232.4L450.6 232.6L445.9 233.3L442.4 234.1L438 233.6L432 235L426 234L421 231L419 227Z" fill="#fc8d59"/>
<path d="M418.5 221.1L421.5 219.7L423.8 220.9L422.6 223.2L419.7 223.8Z" fill="#fc8d59"/>
<path d="M448.8 217.1L452.9 218L457.6 219.4L461.2 220.8L464.1 222.4L461.2 224.1L458.8 223.5L455.9 222.9L452.4 221.8L450 220Z" fill="#fee8c8"/>
<path d="M461.2 224.1L464.1 222.4L465.3 220.8L467.1 222.9L468.2 227.1L468.8 230.6L468.2 230.6L465.3 228.8L462.9 228.2L461.8 226.5Z" fill="#fdd49e"/>
<path d="M455.9 222.9L458.8 223.5L461.2 224.7L461.8 227.1L460 228.2L457.6 226.5L455.9 224.7Z" fill="#fee8c8"/>
<path d="M457.6 226.7L460 228.2L461.2 229.1L458.8 228.6Z" fill="#fdd49e"/>
<path d="M435 236.8L436.2 236.2L437.6 236.5L436.8 237.9L435.3 238.8L434.1 238.2Z" fill="#fdd49e"/>
<path d="M460.6 212.9L462.9 210L466.5 208.2L470.8 207.9L471.8 210.2L468.8 212.4L468.2 214.7L470 217.6L472.4 219.4L474.7 220.8L477.6 221.5L478.2 223.5L476.5 225.3L477.6 228.2L478.6 231.2L477.6 232.9L474.1 233.8L470.8 232.9L468.8 230.6L468.2 227.1L467.1 224.1L465.3 220.8L463.5 218.2L461.8 215.3Z" fill="#ffffff"/>
<path d="M579.2 256.7L580.4 255.8L582.1 256.7L583.3 258.8L583.8 261.2L582.9 263.3L583.3 265.8L585 267.5L586.7 269.6L587.9 271.7L590 272.9L591.2 273.3L590 275.4L588.8 276.7L586.7 277.5L585 278.8L584.3 280.8L585 283.3L585.8 285.8L586.7 288.3L587 289L589 294L588 299L587 294L585.6 290.4L585.4 287.5L583.8 285L582.9 286.7L581.2 288.3L578.8 287.9L577.9 285.4L577.5 282.5L576.7 280L575 278.3L573.3 276.7L572.5 274.6L572.9 272.1L572.9 268.8L573.3 266.7L574.6 265L575 262.9L575.8 260.8L577.1 259.2L578.3 257.9Z" fill="#fdbb84"/>
<path d="M585 278.8L586.7 277.5L588.8 276.7L590 275.4L590.4 277.1L591.7 279.2L592.5 281.7L592 280L594 284L597 283L600 286L603 289L604 293L600 293L598 297L594 296L591 295L590 299L591 304L592 308L595 313L594 314L591 310L589 305L588 299L589 294L587 289L586.7 288.3L585.8 285.8L585 283.3L584.3 280.8Z" fill="#fc8d59"/>
<path d="M590 275.4L591.2 273.3L592.5 272.1L593.8 271.2L594.6 273.3L596.7 275L599.2 275.8L600 277.1L598.8 278.8L597.5 280L600 281.7L602.1 284.2L604.2 286.7L605.4 289.2L605 288L608 293L605 293L603 289L600 286L597 283L594 284L592 280L592.5 281.7L591.7 279.2L590.4 277.1Z" fill="#fee8c8"/>
<path d="M593.3 270.8L595.4 270.4L597.5 270.8L600 269L602.1 270L603.3 271.7L605 272.9L604.2 275L603.3 276.7L602.1 279.2L603.3 281.7L605.8 285L608.3 287.5L609 287L612 292L613.6 297L612.4 301L608 304L605 307L604 304L607 300L609 297L608 293L605 288L604.2 286.7L602.1 284.2L600 281.7L597.5 280L598.8 278.8L600 277.1L599.2 275.8L596.7 275L594.6 273.3L593.8 271.2Z" fill="#fc8d59"/>
<path d="M598 297L600 293L605 293L608 293L609 297L607 300L604 302L600 302L598 300Z" fill="#fdd49e"/>
<path d="M593.5 312.9L595.9 311.8L597.6 312.6L600 314.7L601.2 317.6L601.8 320.6L602.6 323.5L603.5 325.3L602.4 326.2L600.6 324.7L598.2 321.8L595.9 318.8L594.1 315.9Z" fill="#fc8d59"/>
<path d="M370.3 198.8L377.4 191.8L379.7 189.4L391.5 190.6L405.6 188.5L415 185.6L418 185.6L423 187.8L424.8 190L424.2 194L429 195L435 198L442 201L443 203L441.5 206L437 207.5L422.6 210.3L421.5 214.4L417.4 220.3L411.5 222.1L407 224.4L403.8 220.3L399.1 215.6L394.4 212.1L390.3 209.7L386.8 208.9L380.3 210.3L375.6 207.9Z" fill="#fdbb84" stroke="none"/>
<path d="M409 197L411.2 195.8L415 195.5L420 195.8L423.5 196.2L424.5 194L427 194.5L430 194L432 196L435 197.5L439 199L443 200.5L444 203L442.5 206L439.5 207L437 208L434 207.5L432 209L433 210L432 211.2L429.5 210.8L428 209L429 207.5L426 208L424.5 209L423 206.5L421 204.5L418 204L415 204.5L412 204L409.5 202.5L408.5 200Z" fill="#ef6548"/>
<path d="M415 185L418 185.2L421 185L423.5 187.5L425 189.5L426.5 191L425 192L424.5 194L423.5 196.2L420 195.8L415 195.5L411.2 195.8L409.5 194L410.5 191.5L411.2 190L413 189.5L414 187.5Z" fill="#fdbb84"/>
<path d="M402.5 155L405 153L409 152L411.2 153.5L412 156L413.5 158L415 160L416 163L417.5 166L419.5 168.5L417 171.5L414 173.1L410.5 174L406.5 174.6L403.5 173.5L401.5 171L401.5 168L403.5 166L406 163.5L406.8 161.8L404.5 161.5L402.5 162L403 159L403.5 157Z" fill="#fdbb84"/>
<path d="M390.3 157.6L393.8 155.9L398.5 154.7L401.5 155.9L403.2 158.8L402.1 161.8L399.1 164.1L396.8 167.1L395 170.6L395.6 173.5L397.4 175.3L396.8 177.6L394.4 180L393.8 183.5L391.5 185.3L388.5 186.1L386.8 183.5L385 181.2L383.8 178.2L385.6 174.1L385.6 171.2L385 168.2L386.2 165.3L387.9 161.2Z" fill="#fdbb84"/>
<path d="M372.4 170.6L375.6 168.2L380.9 165.3L384.4 161.2L387.4 157.6L391.5 154.7L396.2 151.8L402.1 150L407.9 149.2L412.6 150L414.4 151.8L411.5 153.2L406.8 152.7L402.6 154.8L398.5 155.3L393.8 156.2L390.3 157.9L387.9 161.2L386.2 165.3L385 168.2L385.6 171.2L385.6 174.1L383.8 177.1L382.1 178.8L378.5 180L375 179.4L372.9 177.1L372.1 173.5Z" fill="#fdd49e"/>
<path d="M406.5 176.8L410 176L415 175.8L416 176.4L415 178L415.5 180.5L412 180.5L409 181L407.5 179.5L406.2 178Z" fill="#fee8c8"/>
<path d="M403.5 182L406.5 180.5L409 181L412 180.5L415.5 180.5L416.2 184L415 185.2L411 184.5L407.5 184L404.5 184.5L403.2 183.5Z" fill="#fee8c8"/>
<path d="M403.8 184.8L407.5 184L411 184.5L415 185.2L414 187.5L413 189.5L411.2 190L409 189.5L406.5 188.5L405.5 187L404 186.8Z" fill="#fdd49e"/>
<path d="M391 190.5L394.5 188.5L398 187.8L401.5 188L403 189L406 188.5L409 189.5L410.5 191.5L409.5 194L409 197L410 199L408.5 200L407 201L403.5 200.5L400 199L397 198L393.5 197L392 195.5L391 193Z" fill="#ef6548"/>
<path d="M401.5 187.5L404 186.8L405.5 187L406 188.5L403 189Z" fill="#b30000"/>
<path d="M376 190.4L377.9 189.2L380.4 187.9L382.1 188.3L383.8 188.8L385.4 189.6L387.9 189.2L390.4 190L390.8 193.3L392.1 195.8L390.8 197.1L389.2 197.9L388.3 199.6L390 202.1L388.8 204.2L386.2 205L383.3 205.4L380.8 204.6L380 202.5L377.9 201.2L376.2 199.6L375.8 196.7L375.4 194.6L375.8 192.5Z" fill="#d7301f"/>
<path d="M378.5 182.5L380 181.7L381.7 181.2L382.9 180.8L382.5 182.9L383.3 184.6L382.5 186.7L380.8 187.5L379.2 186.7L378.8 184.6Z" fill="#fdbb84"/>
<path d="M384.6 185L386.7 184.8L387.1 186.7L385.4 187.3L384.3 186.2Z" fill="#fdbb84"/>
<path d="M371.2 195L372.5 192.5L374.6 191.2L376.2 191L375.7 192.9L375.7 195L375 197.1L373.3 196.7Z" fill="#fdbb84"/>
<path d="M368.8 197.1L371.2 196.2L373.3 196.7L375 197.5L376 199.6L375 200.8L372.9 199.8L370.8 198.8Z" fill="#fdbb84"/>
<path d="M375 200.8L376 200L376.5 201.5L375.4 201.8Z" fill="#fee8c8"/>
<path d="M353.3 178.8L357.1 178.3L356.7 180L359.2 180.8L358.8 182.9L357.5 184.6L359.2 185.8L360.8 187.9L362.5 190.4L364.6 192.1L366.2 193.8L365.8 195.4L364.6 196.7L361.7 197.1L358.8 197.9L356.2 198.3L353.8 199L351.7 199.8L352.5 198.3L354.6 197.1L355.8 195.8L353.3 195.4L354.2 193.3L356.2 192.1L356.7 190.4L355 189.2L355.8 187.9L354.2 186.7L352.9 185L352.1 183.8L351.7 182.1L352.1 180.4Z" fill="#d7301f"/>
<path d="M348.3 187.5L350.4 186.8L351.8 188.3L350.8 189.6L349.3 189.2Z" fill="#d7301f"/>
<path d="M343.3 194.6L344.2 192.1L345.4 189.6L347.1 187.9L348.3 187.5L349.3 189.2L350.8 189.6L351.7 190.8L351 192.9L349.6 194.2L347.5 195L345 195.4Z" fill="#fee8c8"/>
<path d="M353.8 203.8L358.5 202.6L360.3 200.3L363.8 201.5L366.2 199.1L369.1 197.4L371.5 199.1L375 200.6L377.9 202.1L379.5 205L377.4 206.8L375.6 207.9L376.8 210.3L378.5 212.6L380.3 214.4L377.4 216.2L373.8 216.8L369.7 217.9L366.8 218.5L363.2 217.4L360.3 216.2L360.3 212.6L359.7 209.1L357.4 206.8L354.4 205.6Z" fill="#ef6548"/>
<path d="M381.1 218.5L382.3 217.9L382.6 220.3L381.8 221.5L381.1 220.3Z" fill="#ef6548"/>
<path d="M343.8 217.4L347.9 216.2L352.6 216.2L357.4 216.8L360.3 216.2L363.2 217.4L366.8 218.5L369.1 219.7L366.8 221.5L364.4 223.8L363.2 226.2L362.6 229.1L360.3 231.5L358.5 233.2L355 234.4L351.5 235L349.7 235.6L347.9 233.2L347.4 230.3L347.9 226.8L348.5 223.2L348.9 220.3L345 219.7Z" fill="#fc8d59"/>
<path d="M345 219.7L348.9 220.3L348.5 223.2L347.9 226.8L347.4 230.3L346.8 233.2L344.2 233.2L343.5 230.3L342.6 227.9L343.8 224.4L344.4 221.5Z" fill="#fdd49e"/>
<path d="M377.4 211.5L380.3 210.1L383.2 209.1L386.8 208.5L390.3 208.9L391.2 210.9L389.1 212.1L389.4 214.4L391.5 216.8L394.4 219.7L397.4 222.1L400.3 223.2L402.1 225.4L400.3 225.6L398.5 225L399.5 227.4L398.5 229.7L397.1 230.3L397.4 227.9L396.2 225.8L393.2 223.2L390.3 221.5L387.4 219.1L385 216.2L383.2 214.4L380.3 214.4L378.5 212.6Z" fill="#fc8d59"/>
<path d="M380.6 223.2L383 222.6L383.5 225.6L382.6 227.9L380.9 227.7Z" fill="#fc8d59"/>
<path d="M389.7 230.9L393.2 230.3L396.2 230.1L395.6 232.4L394.4 233.8L391.5 232.9Z" fill="#fc8d59"/>
<path d="M375.6 207.4L377.4 205.8L381.5 205.4L384.4 205.8L383.8 207.9L380.9 209.4L377.6 209.7L376.2 208.9Z" fill="#fdd49e"/>
<path d="M384.4 205.8L387.4 205L389.1 203.2L392.1 202.6L395 203.2L397.4 202.6L397.9 205L396.8 206.8L393.2 207.7L390.3 208.5L386.8 208.2L384.2 207.4Z" fill="#fdbb84"/>
<path d="M388.5 198.5L390.9 197.4L393.8 196.8L396.8 197.9L399.5 199.5L399.1 201.1L396.8 202.1L393.8 203L391.5 202.3L389.1 200.6Z" fill="#fdbb84"/>
<path d="M397.4 202.3L399.5 200.9L402.6 200.6L406.2 201.1L408.2 201.5L407.4 203.2L404.4 204.2L400.9 204.6L398.3 204.6Z" fill="#fdd49e"/>
<path d="M398.3 205L400.9 204.6L404.4 204.2L407.7 203.5L408.5 205.4L406.8 207.4L403.8 209.1L400.3 209.7L397.9 208.9L396.8 207Z" fill="#fdbb84"/>
<path d="M391.2 208.9L393.8 207.9L396.8 208.2L396.2 210.1L393.2 210.9L391.5 210.5Z" fill="#fee8c8"/>
<path d="M393.2 210.9L396.2 210.1L397.9 209.1L400.3 210.1L402.6 210.9L402.1 212.4L399.1 212.1L396.8 212.6L398.5 215L400.9 217.4L402.6 219.1L401.5 219.1L398.5 216.8L395.6 214.4L393.8 212.6Z" fill="#fee8c8"/>
<path d="M396.8 212.6L399.1 212.1L402.1 212.4L403.2 214.4L402.6 216.8L401.5 217.9L399.5 216.2L397.9 214.4Z" fill="#fee8c8"/>
<path d="M402.6 210.9L404.4 209.7L406.8 210.3L408.5 212.6L410.3 215L409.7 217.4L408.5 219.1L405.6 219.5L404.4 217.9L403.2 215.6L403 213.2Z" fill="#fdd49e"/>
<path d="M402.1 217.9L404.4 218.5L405.6 219.9L408.5 219.7L410.9 220.3L411.5 222.3L409.1 223.2L407 223.8L406.2 225.8L405 225L404.4 222.6L403.2 220.3Z" fill="#fee8c8"/>
<path d="M406.2 225.8L407 223.8L409.1 223.2L411.5 222.3L414.4 221.5L417.9 221.1L418.5 223.2L415 223.8L412.6 224.4L413.8 226.8L412.6 228.5L414.1 231.5L413.2 234.4L410.9 233.8L409.4 231.5L407.7 229.1L406.8 227.4Z" fill="#fdd49e"/>
<path d="M414.1 236.8L419.7 237.1L419.5 238.3L414.4 237.9Z" fill="#fdd49e"/>
<path d="M410.3 215L413.2 215.6L417.4 215L421.5 214.4L422.6 216.2L421.5 218.5L419.7 220.3L417.9 221.1L414.4 221.5L411.5 221.8L410.9 219.9L410.1 217.6Z" fill="#fdbb84"/>
<path d="M406.8 207.4L408.5 205.4L411.5 204.6L415 205L417.9 204.6L419.7 206.8L421.5 209.7L423.2 211.5L422.6 213.8L421.5 214.4L417.4 215L413.2 215.6L410.3 215L408.5 212.6L407 210.3Z" fill="#fdbb84"/>
<path d="M418 204L420 204.5L422 206.5L423.5 209L422.5 210L421 208L419.5 206Z" fill="#fee8c8"/>
<path d="M628 224.5L630 222.5L632 221.2L634 220L636 218.5L637.5 219L637 221.5L636 223.5L635 225.5L636 227.5L637.5 229L636 230L634 231L632 230.5L630.5 229L631 227L629.5 226Z" fill="#fdbb84"/>
<path d="M634 231.2L636 230L637.8 229.2L640 230.5L642 233L643.5 236L643.8 238L642 239L640 239.5L638 238.5L637 236.5L636 234.5L635 233Z" fill="#fc8d59"/>
<path d="M656 212L658 213L660 214L662.5 214.2L664.5 213.8L665.5 215L666.8 216.5L665 217.5L663.5 218L664 219.5L662 219L660.5 219L659.5 220.5L657.5 220L656.2 218L657.5 216L657 214Z" fill="#d7301f"/>
<path d="M660 222.2L662 222.5L664 224.5L665.5 227L665.8 229.5L666.5 232.5L667.8 235L668 237L666.5 238.5L664.5 239L663 239.5L661 240.5L660.5 241.8L658.5 241.5L657.5 240.5L656.5 241.5L655 242L654.5 243.5L653.5 244L653 242.8L651.5 243L652.5 245L652.8 247L651.8 248.5L650.5 248L650 246L649 245L647 244L646.8 242.8L648.5 241.5L650 239L652 237.5L654.5 237L656.5 236.5L657.5 234.5L657.8 232.5L659.5 233L661 231L661.5 228.5L660.5 226L659.5 224Z" fill="#d7301f"/>
<path d="M633.6 265L636 263.6L636.8 267L635.6 271.6L633.6 270Z" fill="url(#h)" stroke="#d4d4d4" stroke-width="0.5"/>
<path d="M637 282.4L640 281.6L642 285L641 289L641.8 292.4L644.1 293.5L645.9 295.3L648.2 297.1L650.6 298.2L651.2 300.6L650 301.8L648.2 300L646.5 298.8L644.1 297.1L642.4 295.9L640.6 296.5L639.4 294.1L638.2 291.8L636.4 288Z" fill="#fc8d59"/>
<path d="M642.4 299.4L644.1 300L645.9 301.8L644.7 302.9L642.9 301.8Z" fill="#fc8d59"/>
<path d="M645.3 302.4L647.6 302.9L648.2 305.3L646.5 305.3L645.3 304.1Z" fill="#fc8d59"/>
<path d="M648.8 301.2L650.6 301.8L651.2 304.1L650 304.7Z" fill="#fc8d59"/>
<path d="M643.5 310L645.9 308.8L648.8 307.6L650.6 305.3L652.4 304.7L653.5 307.6L654.1 311.2L652.9 314.1L651.2 314.7L649.4 312.9L647.6 311.2L645.3 311.8L644.1 311.8Z" fill="#fc8d59"/>
<path d="M632.4 307.6L634.7 304.1L637.1 300.8L637.9 301.5L635.9 304.7L633.5 307.9Z" fill="#fc8d59"/>
<path d="M582.4 315.9L585.3 315.3L588.2 317.1L591.2 320L594.1 322.9L597.6 325.3L601.2 327.6L602.9 330.6L605.3 334.1L607.6 337.1L607.3 340.6L606.8 344.4L604.7 345.1L601.8 342.9L598.8 339.4L596.5 335.3L594.1 331.2L591.8 327.1L589.4 323.5L586.5 320.6L583.5 318Z" fill="#d7301f"/>
<path d="M605.6 346.2L608.2 345.3L611.8 346.2L615.3 347.6L618.8 347.1L622.4 348.2L625.9 350L628.8 351.2L627.1 352.4L623.5 351.8L619.4 350.9L615.3 350.6L611.2 349.4L607.6 348.2Z" fill="#d7301f"/>
<path d="M631.2 352.4L633.5 351.4L637.1 351.2L636.5 352.6L633.5 353.3L631.8 353.5Z" fill="#d7301f"/>
<path d="M638.8 351.8L642.4 351.4L645.9 350.9L644.7 352.4L641.2 352.9L639.4 352.7Z" fill="#d7301f"/>
<path d="M636.5 354.5L638.8 354.7L640.2 356.1L638.2 356.1Z" fill="#d7301f"/>
<path d="M646.5 355.9L648.2 354.1L650 352.9L650.6 354.1L648.8 355.9L647.1 356.8Z" fill="#d7301f"/>
<path d="M650 352.9L652.9 351.4L655.9 350.9L655.3 352.4L652.4 353.5L650.6 354.1Z" fill="#fee8c8"/>
<path d="M614.1 326.5L615.3 325.1L617.6 327.4L621.2 327.1L624.7 325.3L627.1 322.9L629.4 320L631.8 319.2L634.7 319.4L635.1 322.4L634.7 325.3L637.1 327.4L635.1 328.8L633.5 331.8L631.8 335.3L631.2 338.8L628.2 340L625.9 338.2L622.4 338L619.4 337.6L617.4 337.1L616.5 334.1L614.7 331.2L614.1 328.8Z" fill="#d7301f"/>
<path d="M615.3 325.1L617.6 324.1L621.2 322L624.7 319.4L627.1 317.1L629.4 314.1L631.8 311.8L634.1 313.5L635.9 315.3L637.6 316.1L636.2 318.2L634.7 319.4L631.8 319.2L629.4 320L627.1 322.9L624.7 325.3L621.2 327.1L617.6 327.4Z" fill="#fc8d59"/>
<path d="M626.8 316.8L628.2 315.6L628.8 317.3L627.6 318.5Z" fill="#fee8c8"/>
<path d="M637.4 336.5L638.2 333.5L639.4 330L641.2 327.6L644.7 326.7L648.2 326.5L651.8 325.5L650.6 327.6L647.1 328.6L643.5 329.4L641.8 331.2L644.1 332.4L647.6 331.4L646.5 333.3L643.5 334.5L644.1 337.1L645.9 340L646.8 342.9L645.3 344.1L644.1 341.8L642.4 338.8L641.2 336.5L640.6 339.4L640.2 342.9L640 344.4L638.2 344.1L637.9 340.6Z" fill="#d7301f"/>
<path d="M657.1 324.7L658.8 324.4L660 326.5L659.4 329.4L658.2 331.4L657.6 328.8L657.4 326.7Z" fill="#d7301f"/>
<path d="M653.2 338.2L655.9 338L656.2 339.2L653.5 339.4Z" fill="#d7301f"/>
<path d="M658.2 337.3L662.4 337.1L664.5 338.5L661.2 338.8L658.6 338.5Z" fill="#d7301f"/>
<path d="M671.8 344.4L673.2 344.1L672.7 347.1L671.5 347.4Z" fill="#d7301f"/>
<path d="M665 332L669 331L672 332L673 336L677 335L682 334L687.6 337L687.6 353L684 352L680 351L682 348L680 345L676 343L672 340L669 338L668 335Z" fill="#d7301f"/>
<path d="M687.6 337L692 339L697 342L701 345L703.6 347L702 349L704.4 353L709 357L706 357.6L701 355L696 352L692 353L687.6 353Z" fill="#fee8c8"/>
<path d="M704.4 344.4L709 344L713 342L715 339L716.4 341L714 344.4L710 346.4L705.6 346Z" fill="#fee8c8"/>
<path d="M719 344L722 346L725 348L724 349L720 346.4Z" fill="#fee8c8"/>
<path d="M728 349L731 351L730 352Z" fill="#fee8c8"/>
<path d="M732 353L735 355.6L734.4 358L732.4 356Z" fill="#fee8c8"/>
<path d="M743.6 368L745 370L745.2 373L744 372Z" fill="#fee8c8"/>
<path d="M734.4 383L736 382L740 387L739 388.4Z" fill="url(#h)" stroke="#d4d4d4" stroke-width="0.5"/>
<path d="M614 419L615 414L618 409L617.6 402L617 396L620 390L625 386L632 383L638 380L642 374L647 370L651 367L655 366L658 368L661 363L666 360L671 361L676.4 362.4L674 367L678 372L682 375.6L685 371L687 364L689.4 358L691 362.4L692.4 367L695 370L696 376L699.6 382L702 388L705 393L706 399L704.4 405L704.9 403.5L702.3 408.5L698.1 414.2L693.1 419.1L688.9 423.4L685.3 427.6L679.7 429.5L674.7 431.4L671.9 430.5L668.3 429.7L665.2 427.6L664.8 423.4L663.4 419.8L664.8 416.3L661.2 417.7L658.4 419.8L657 415.6L653.5 412.7L647.1 413L640 414.2L634 417L628 419L622 421L617 421.6Z" fill="#ef6548"/>
<path d="M669 436.5L673.3 436.1L676.8 436.5L674.7 440.4L671.9 442.5L668 443.6L667.6 440.4Z" fill="#ef6548"/>
<path d="M739.2 419.8L740.8 421.2L741.3 424.8L742.7 427.6L746.2 428.3L744.1 430.9L741.3 432.3L737.7 434.7L734.2 437.5L732.1 438.2L733.2 435.4L733.5 432.6L736.3 431.9L738.4 429L739.2 425.5L738.9 422.7Z" fill="#fdd49e"/>
<path d="M705.2 449.6L708.7 447.5L713.7 444.6L719.3 441.8L724.3 439L728.5 435.7L730.7 437.1L728.5 439.7L725 441.8L722.2 443.9L717.9 446L713.7 448.9L709.4 451.3L706.6 451Z" fill="#fdd49e"/>
<path d="M378.2 132.8L382.8 131.5L387.8 131.5L394.4 130.7L401.8 131.1L401 132.8L395.2 132.8L391.9 134.4L389.4 137.2L387 138.1L382.8 135.6L379.5 133.9Z" fill="#fdd49e"/>
<path d="M394.4 135.1L399 135.6L398.5 136.7L394.7 136.4Z" fill="#fdd49e"/>
<path d="M8.7 278L10.3 276.7L12 278.3L10.5 280L9 280.7Z" fill="#7f0000"/>
<path d="M5.2 273L7.5 273.8L9.6 275L9.3 275.6L7.2 274.6L5 273.6Z" fill="#7f0000"/>
<path d="M765.8 375.8L768.3 374.7L769.7 376.7L767 378Z" fill="#fdd49e"/>
<path d="M770 372.5L773.3 371.7L773.7 373L770.8 373.8Z" fill="#fdd49e"/>
<path d="M324.7 274.4L332.9 274.1L333.5 268.2L336.5 266.5L337.6 262.4L342.9 261.8L342.9 259.4L347.6 262.9L347.6 275.3L327.1 275.3Z" fill="#fee8c8" stroke="none"/>
<path d="M334.1 257.6L342.9 257.6L342.9 261.8L337.6 262.4L336.5 266.5L333.5 268.2L332.9 274.1L324.7 274.4L325.9 271.2L328.8 266.5L331.2 262.4Z" fill="url(#h)" stroke="#d4d4d4" stroke-width="0.5"/>
<path d="M501 458L503 456.6L504.6 457.6L503 459.4Z" fill="url(#h)" stroke="#d4d4d4" stroke-width="0.5"/>
</g>
<!-- LEGEND -->
<g id="legend">
<text class="l" x="122.5" y="510" font-size="13" text-anchor="middle" textLength="47" lengthAdjust="spacingAndGlyphs">No data</text>
<line x1="122.5" y1="514.5" x2="122.5" y2="517" stroke="#999" stroke-width="0.6"/>
<rect x="98.5" y="517" width="48" height="11.5" fill="url(#h)" stroke="#ccc" stroke-width="0.7"/>
<path d="M166 522.75L172 517H224.5V528.5H172Z" fill="#6db5c0"/>
<rect x="224.5" y="517" width="58.5" height="11.5" fill="#fee8c8"/>
<rect x="283" y="517" width="58.5" height="11.5" fill="#fdd49e"/>
<rect x="341.5" y="517" width="58.5" height="11.5" fill="#fdbb84"/>
<rect x="400" y="517" width="58.5" height="11.5" fill="#fc8d59"/>
<rect x="458.5" y="517" width="58.5" height="11.5" fill="#ef6548"/>
<rect x="517" y="517" width="58.5" height="11.5" fill="#d7301f"/>
<rect x="575.5" y="517" width="58.5" height="11.5" fill="#b30000"/>
<rect x="634" y="517" width="58.5" height="11.5" fill="#990000"/>
<path d="M692.5 517H746L751.5 522.75L746 528.5H692.5Z" fill="#7f0000"/>
<path d="M166 522.75L172 517H746L751.5 522.75L746 528.5H172Z" fill="none" stroke="#aaa" stroke-width="0.5"/>
<g stroke="#888" stroke-width="0.6">
<line x1="224.5" y1="514" x2="224.5" y2="528.5"/><line x1="283" y1="514" x2="283" y2="528.5"/><line x1="341.5" y1="514" x2="341.5" y2="528.5"/><line x1="400" y1="514" x2="400" y2="528.5"/><line x1="458.5" y1="514" x2="458.5" y2="528.5"/><line x1="517" y1="514" x2="517" y2="528.5"/><line x1="575.5" y1="514" x2="575.5" y2="528.5"/><line x1="634" y1="514" x2="634" y2="528.5"/><line x1="692.5" y1="514" x2="692.5" y2="528.5"/>
</g>
<g class="l" font-size="13" text-anchor="middle">
<text x="224.5" y="510">0%</text><text x="283" y="510">0.1%</text><text x="341.5" y="510">0.2%</text><text x="400" y="510">0.5%</text><text x="458.5" y="510">1%</text><text x="517" y="510">2%</text><text x="575.5" y="510">5%</text><text x="634" y="510">10%</text><text x="692.5" y="510">20%</text>
</g>
</g>
<!-- FOOTER -->
<text class="f" x="16.6" y="560.5" font-size="13" font-weight="bold" textLength="26.3" lengthAdjust="spacingAndGlyphs">Data</text><text class="f" x="46.9" y="560.5" font-size="13" font-weight="bold" textLength="41.5" lengthAdjust="spacingAndGlyphs">source:</text><text class="f" x="92.3" y="560.5" font-size="13" textLength="35.6" lengthAdjust="spacingAndGlyphs">Global</text><text class="f" x="132.5" y="560.5" font-size="13" textLength="40.5" lengthAdjust="spacingAndGlyphs">Carbon</text><text class="f" x="177.3" y="560.5" font-size="13" textLength="39.5" lengthAdjust="spacingAndGlyphs">Budget</text><text class="f" x="221.5" y="560.5" font-size="13" textLength="36.2" lengthAdjust="spacingAndGlyphs">(2025)</text><text class="f" x="460.4" y="560.5" font-size="13" textLength="172.7" lengthAdjust="spacingAndGlyphs">OurWorldinData.org/co2-and-</text><text class="f" x="633.5" y="560.5" font-size="13" textLength="71.9" lengthAdjust="spacingAndGlyphs">greenhouse-</text><text class="f" x="706.2" y="560.5" font-size="13" textLength="21.2" lengthAdjust="spacingAndGlyphs">gas-</text><text class="f" x="728.7" y="560.5" font-size="13" textLength="54.9" lengthAdjust="spacingAndGlyphs">emissions</text><text class="f" x="788.0" y="560.5" font-size="13" textLength="2.3" lengthAdjust="spacingAndGlyphs">|</text><text class="f" x="793.9" y="560.5" font-size="13" textLength="14.5" lengthAdjust="spacingAndGlyphs">CC</text><text class="f" x="813.6" y="560.5" font-size="13" textLength="16.2" lengthAdjust="spacingAndGlyphs">BY</text>
<text class="f" x="16.6" y="580.5" font-size="13" font-weight="bold" textLength="32.3" lengthAdjust="spacingAndGlyphs">Note:</text><text class="f" x="52.8" y="580.5" font-size="13" textLength="54.4" lengthAdjust="spacingAndGlyphs">Emissions</text><text class="f" x="111.4" y="580.5" font-size="13" textLength="25.4" lengthAdjust="spacingAndGlyphs">from</text><text class="f" x="141.1" y="580.5" font-size="13" textLength="48.4" lengthAdjust="spacingAndGlyphs">land-use</text><text class="f" x="193.8" y="580.5" font-size="13" textLength="38.5" lengthAdjust="spacingAndGlyphs">change</text><text class="f" x="237.3" y="580.5" font-size="13" textLength="19.1" lengthAdjust="spacingAndGlyphs">can</text><text class="f" x="261.0" y="580.5" font-size="13" textLength="12.5" lengthAdjust="spacingAndGlyphs">be</text><text class="f" x="277.8" y="580.5" font-size="13" textLength="44.2" lengthAdjust="spacingAndGlyphs">positive</text><text class="f" x="326.7" y="580.5" font-size="13" textLength="10.8" lengthAdjust="spacingAndGlyphs">or</text><text class="f" x="341.8" y="580.5" font-size="13" textLength="47.4" lengthAdjust="spacingAndGlyphs">negative</text><text class="f" x="393.5" y="580.5" font-size="13" textLength="58.3" lengthAdjust="spacingAndGlyphs">depending</text><text class="f" x="456.1" y="580.5" font-size="13" textLength="13.2" lengthAdjust="spacingAndGlyphs">on</text><text class="f" x="473.6" y="580.5" font-size="13" textLength="46.7" lengthAdjust="spacingAndGlyphs">whether</text><text class="f" x="525.3" y="580.5" font-size="13" textLength="38.7" lengthAdjust="spacingAndGlyphs">carbon</text><text class="f" x="568.2" y="580.5" font-size="13" textLength="7.6" lengthAdjust="spacingAndGlyphs">is</text><text class="f" x="580.4" y="580.5" font-size="13" textLength="42.2" lengthAdjust="spacingAndGlyphs">emitted</text><text class="f" x="627.5" y="580.5" font-size="13" textLength="10.9" lengthAdjust="spacingAndGlyphs">or</text><text class="f" x="642.3" y="580.5" font-size="13" textLength="71.9" lengthAdjust="spacingAndGlyphs">sequestered.</text>
</svg>
</body></html>
